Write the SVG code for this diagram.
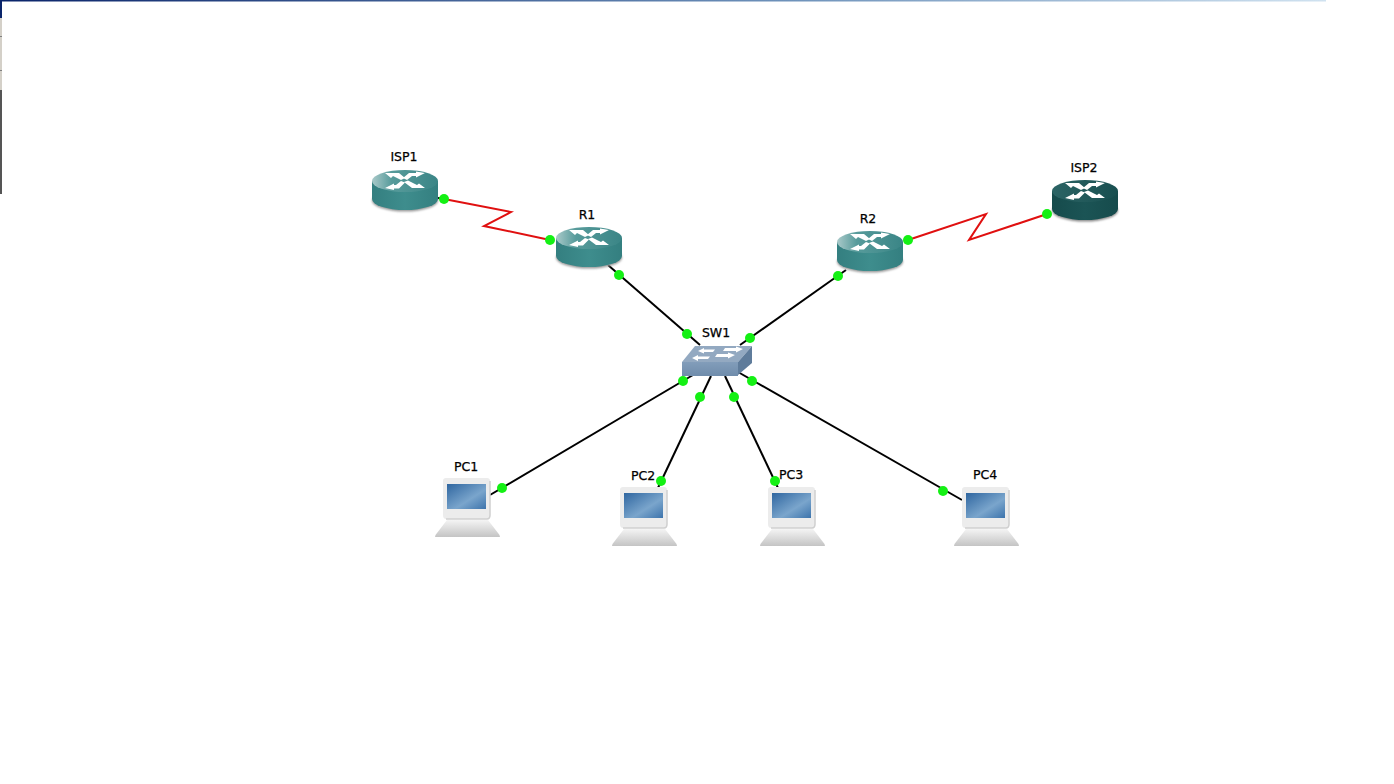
<svg xmlns="http://www.w3.org/2000/svg" width="1394" height="784" viewBox="0 0 1394 784">
<style>
.lbl{font-family:"DejaVu Sans","Liberation Sans",sans-serif;font-size:12.5px;fill:#000;stroke:#000;stroke-width:.25;text-anchor:middle}
.blk{fill:none;stroke:#000;stroke-width:2}
.red{fill:none;stroke:#e01010;stroke-width:2;stroke-linejoin:miter}
.dot{fill:#14f014}
.arr{fill:#fff}
</style>
<defs>
<filter id="soft" x="-20%" y="-20%" width="140%" height="140%"><feGaussianBlur stdDeviation="1"/></filter>
<linearGradient id="bar" x1="0" x2="1" y1="0" y2="0"><stop offset="0" stop-color="#0a246a"/><stop offset=".6" stop-color="#6f93bb"/><stop offset="1" stop-color="#d0e2f0"/></linearGradient>
<linearGradient id="bodyA" x1="0" x2="1" y1="0" y2="0"><stop offset="0" stop-color="#347f80"/><stop offset=".5" stop-color="#3e8d8d"/><stop offset="1" stop-color="#347f80"/></linearGradient>
<linearGradient id="topA" x1="0" x2="1" y1="0" y2="0"><stop offset="0" stop-color="#a9c9c9"/><stop offset=".3" stop-color="#579b9b"/><stop offset="1" stop-color="#3a8586"/></linearGradient>
<linearGradient id="bodyB" x1="0" x2="1" y1="0" y2="0"><stop offset="0" stop-color="#164b4c"/><stop offset=".5" stop-color="#1b5455"/><stop offset="1" stop-color="#164b4c"/></linearGradient>
<linearGradient id="topB" x1="0" x2="1" y1="0" y2="0"><stop offset="0" stop-color="#2c6465"/><stop offset="1" stop-color="#184f50"/></linearGradient>
<linearGradient id="screen" x1="0" x2="1" y1="0" y2="1"><stop offset="0" stop-color="#2f66a0"/><stop offset=".6" stop-color="#7aa5cc"/><stop offset="1" stop-color="#3d74ac"/></linearGradient>
<linearGradient id="base" x1="0" x2="0" y1="0" y2="1"><stop offset="0" stop-color="#f4f4f4"/><stop offset="1" stop-color="#c4c4c4"/></linearGradient>
<linearGradient id="swf" x1="0" x2="0" y1="0" y2="1"><stop offset="0" stop-color="#829dba"/><stop offset="1" stop-color="#6f8cab"/></linearGradient>
<g id="arrows">
<path class="arr" d="M13 3 H27 L33 8 L29 10 L21 6 L19 8 Z"/>
<path class="arr" d="M53 3 L44 1.5 V3 H37 L31 8 L35 10 L40 6 H44 V7.5 Z"/>
<path class="arr" d="M13 18 L22 20 V18.5 H27 L33 12.5 L29 11 L24 15 H22 V13.5 Z"/>
<path class="arr" d="M53 18 H40 L32 12 L36 10.5 L45 15 L47 13.5 Z"/>
</g>
<g id="rtrA">
<ellipse cx="33" cy="30.500" rx="33" ry="11" fill="#999" filter="url(#soft)"/>
<path d="M0 11 V29 A33 11 0 0 0 66 29 V11 Z" fill="url(#bodyA)"/>
<ellipse cx="33" cy="11" rx="33" ry="11" fill="url(#topA)"/>
<use href="#arrows"/>
</g>
<g id="rtrB">
<ellipse cx="33" cy="30.500" rx="33" ry="11" fill="#888" filter="url(#soft)"/>
<path d="M0 11 V29 A33 11 0 0 0 66 29 V11 Z" fill="url(#bodyB)"/>
<ellipse cx="33" cy="11" rx="33" ry="11" fill="url(#topB)"/>
<use href="#arrows"/>
</g>
<g id="pc">
<path d="M-8 59 Q-8 57 -6 55 L4 42 L45 42 L55 55 Q57 57 57 59 Z" fill="url(#base)"/>
<path d="M3 0 H44 Q47 0 47 3 V37 Q47 41 44 41 H3 Q0 41 0 37 V3 Q0 0 3 0 Z" fill="#ececec"/>
<path d="M47 3 V37 Q47 41 44 41 H3" fill="none" stroke="#cfcfcf" stroke-width="1.500"/>
<rect x="4" y="6" width="39" height="25" fill="url(#screen)"/>
</g>
</defs>

<rect id="titlebar" x="0" y="0" width="1326" height="1.5" fill="url(#bar)"/>
<rect x="0" y="1" width="2" height="17" fill="#0a246a"/>
<rect x="0" y="18" width="2" height="72" fill="#d4d0c8"/>
<rect x="0" y="36" width="2" height="1" fill="#808080"/>
<rect x="0" y="70" width="2" height="1" fill="#808080"/>
<rect x="0" y="90" width="2" height="104" fill="#555"/>

<g id="connectors">
<path class="blk" d="M432 197 L444 199"/>
<path class="red" d="M444 199 L511 212 L484 226 L550 240"/>
<path class="red" d="M908 240 L986 214 L969 240 L1047 214"/>
<path class="blk" d="M608 265 L700 345"/>
<path class="blk" d="M846 270 L740 345"/>
<path class="blk" d="M693 375 L490 495"/>
<path class="blk" d="M711 376 L657 490"/>
<path class="blk" d="M725 376 L778 488"/>
<path class="blk" d="M738 372 L962 500"/>
</g>

<g id="ISP1"><use href="#rtrA" x="372" y="170"/><text class="lbl" x="404" y="161">ISP1</text></g>
<g id="R1"><use href="#rtrA" x="556" y="227"/><text class="lbl" x="587" y="219">R1</text></g>
<g id="R2"><use href="#rtrA" x="837" y="231"/><text class="lbl" x="868" y="223">R2</text></g>
<g id="ISP2"><use href="#rtrB" x="1052" y="180"/><text class="lbl" x="1084" y="172">ISP2</text></g>
<g id="SW1">
<path d="M682 362 L695 346 H752 L738 362 Z" fill="#93a9c1"/>
<path d="M738 362 L752 346 V363 L738 375 Z" fill="#5f7c9b"/>
<rect x="682" y="362" width="56" height="14" fill="url(#swf)"/>
<path class="arr" d="M698 351 L704 348 V349.500 H715 L713 352 H704 V353.500 Z"/>
<path class="arr" d="M743 348 L736 345.500 V347 H725 L723 350 H736 V351.500 Z" transform="translate(0 1)"/>
<path class="arr" d="M692 358 L698 355 V356.500 H710 L708 359 H698 V361 Z"/>
<path class="arr" d="M735 355 L728 352.500 V354 H717 L715 357 H728 V358.500 Z"/>
<text class="lbl" x="716" y="337">SW1</text>
</g>
<g id="PC1"><use href="#pc" x="443" y="478"/><text class="lbl" x="466" y="471">PC1</text></g>
<g id="PC2"><use href="#pc" x="620" y="487"/><text class="lbl" x="643" y="480">PC2</text></g>
<g id="PC3"><use href="#pc" x="768" y="487"/><text class="lbl" x="791" y="479">PC3</text></g>
<g id="PC4"><use href="#pc" x="962" y="487"/><text class="lbl" x="985" y="479">PC4</text></g>

<g id="status">
<circle class="dot" cx="444" cy="199" r="5"/><circle class="dot" cx="550" cy="240" r="5"/>
<circle class="dot" cx="619" cy="275" r="5"/><circle class="dot" cx="687" cy="334" r="5"/>
<circle class="dot" cx="750" cy="338" r="5"/><circle class="dot" cx="838" cy="276" r="5"/>
<circle class="dot" cx="908" cy="240" r="5"/><circle class="dot" cx="1047" cy="214" r="5"/>
<circle class="dot" cx="683" cy="381" r="5"/><circle class="dot" cx="700" cy="397" r="5"/>
<circle class="dot" cx="734" cy="397" r="5"/><circle class="dot" cx="752" cy="381" r="5"/>
<circle class="dot" cx="502" cy="488" r="5"/><circle class="dot" cx="661" cy="481" r="5"/>
<circle class="dot" cx="775" cy="481" r="5"/><circle class="dot" cx="943" cy="491" r="5"/>
</g>
</svg>
